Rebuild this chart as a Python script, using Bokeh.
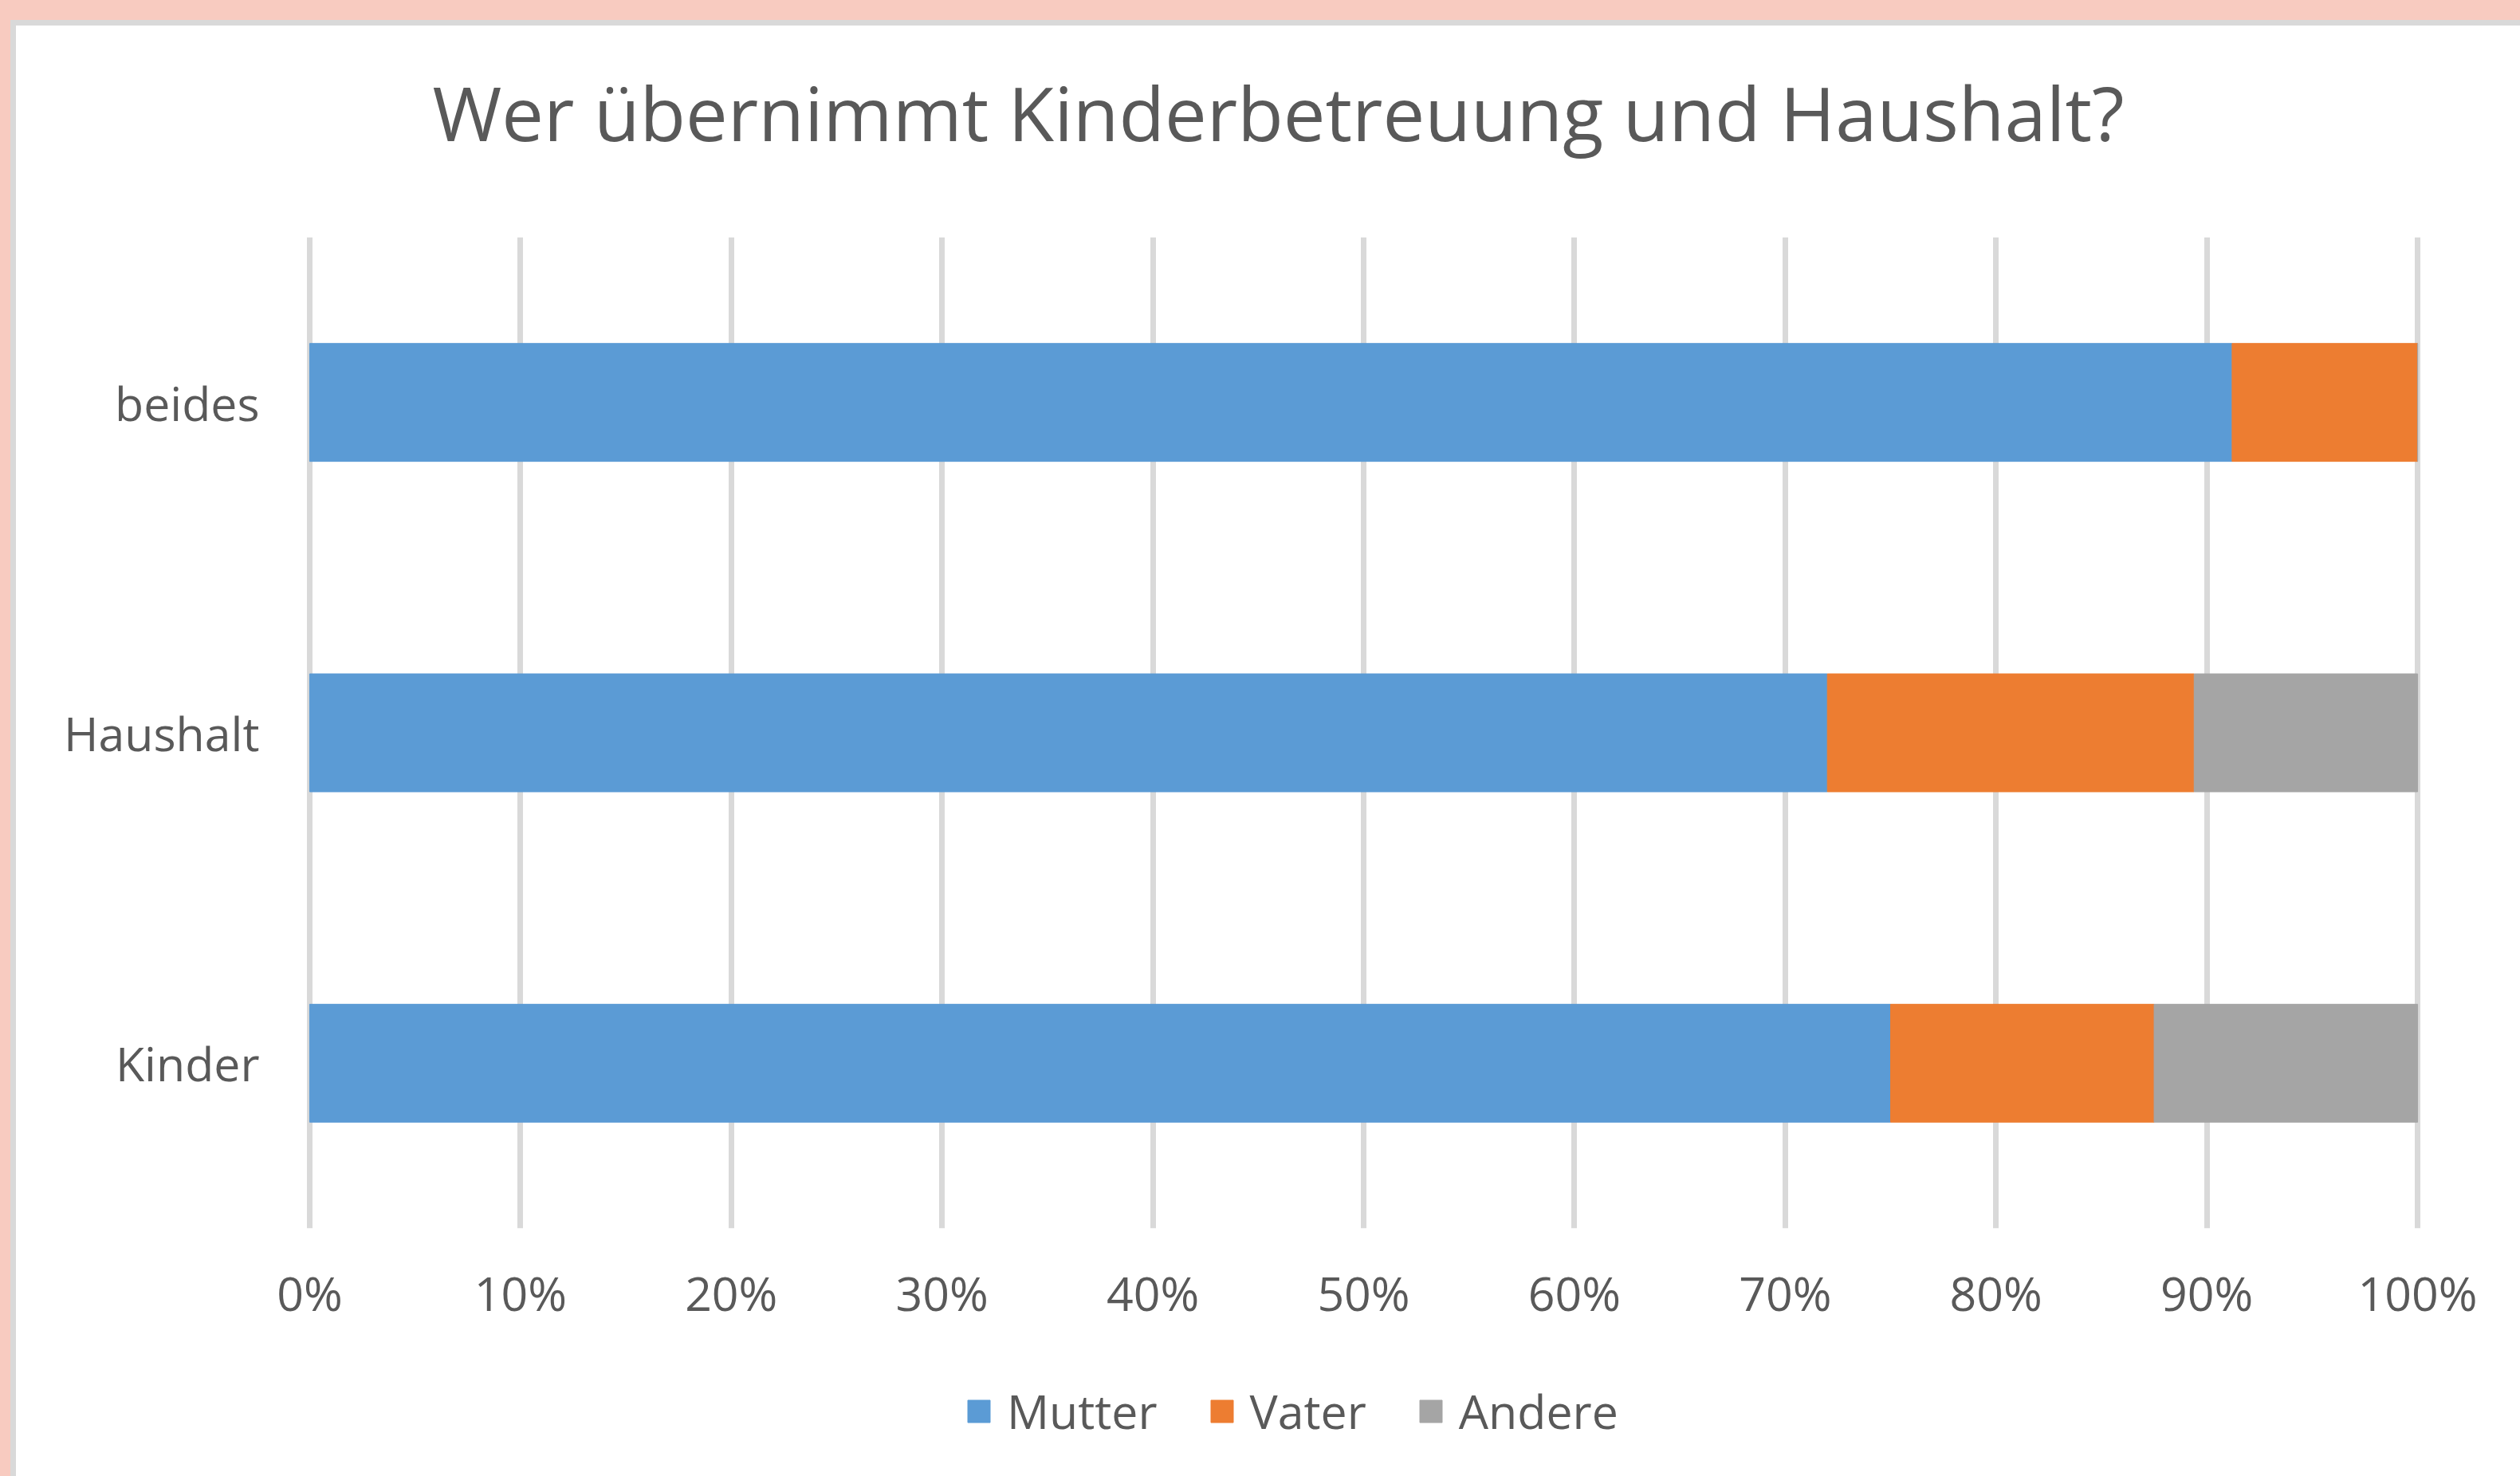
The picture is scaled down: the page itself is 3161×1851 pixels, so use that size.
from bokeh.plotting import figure
from bokeh.models import (ColumnDataSource, FactorRange, Range1d, FixedTicker,
                          NumeralTickFormatter, Label, Legend)
from bokeh.layouts import column
from bokeh.embed import file_html
from bokeh.resources import INLINE

# ---- data ----
categories = ["Kinder", "Haushalt", "beides"]
series = ["Mutter", "Vater", "Andere"]
mutter = [0.750, 0.720, 0.912]
vater = [0.125, 0.174, 0.088]
andere = [0.125, 0.106, 0.000]
tick_values = [0.0, 0.1, 0.2, 0.3, 0.4, 0.5, 0.6, 0.7, 0.8, 0.9, 1.0]
title_text = "Wer übernimmt Kinderbetreuung und Haushalt?"

# ---- style ----
colors = ["#5B9BD5", "#ED7D31", "#A5A5A5"]
FONT = "Open Sans"
TEXT = "#595959"
W = 3141
H_TITLE, H_MAIN, H_LEG = 265, 1404, 150

source = ColumnDataSource(data=dict(cat=categories, Mutter=mutter, Vater=vater, Andere=andere))


def bare_figure(height):
    f = figure(width=W, height=height,
               x_range=Range1d(0, 1), y_range=FactorRange(*categories),
               x_axis_type=None, y_axis_type=None,
               output_backend="svg", toolbar_location=None,
               min_border_left=0, min_border_right=0, min_border_top=0, min_border_bottom=0,
               background_fill_alpha=0, border_fill_color="white",
               outline_line_color=None)
    return f


# ---- title strip ----
ptitle = bare_figure(H_TITLE)
ptitle.add_layout(Label(x=1223, y=157, x_units="screen", y_units="screen",
                        text=title_text, text_align="center", text_baseline="alphabetic",
                        text_font_size="94px", text_color=TEXT, text_font=FONT))

# ---- main chart ----
p = figure(width=W, height=H_MAIN,
           y_range=FactorRange(*categories, range_padding=0),
           x_range=Range1d(-0.003, 1.003),
           output_backend="svg", toolbar_location=None,
           min_border_left=360, min_border_right=121,
           min_border_top=0, min_border_bottom=161,
           background_fill_alpha=0, border_fill_color="white",
           outline_line_color=None)

renderers = p.hbar_stack(series, y="cat", height=0.357, color=colors, source=source)

for ax in (p.xaxis[0], p.yaxis[0]):
    ax.axis_line_color = None
    ax.major_tick_line_color = None
    ax.minor_tick_line_color = None
    ax.major_tick_out = 0
    ax.major_tick_in = 0
    ax.major_label_text_font_size = "59px"
    ax.major_label_text_color = TEXT
    ax.major_label_text_font = FONT

p.xaxis.ticker = FixedTicker(ticks=tick_values)
p.xaxis.formatter = NumeralTickFormatter(format="0%")
p.xaxis.major_label_standoff = 40
p.yaxis.major_label_standoff = 55

p.xgrid.ticker = FixedTicker(ticks=tick_values)
p.xgrid.grid_line_color = "#D9D9D9"
p.xgrid.grid_line_width = 7
p.ygrid.grid_line_color = None

# ---- legend strip (legend keys come from hidden copies of the series) ----
plegend = bare_figure(H_LEG)
leg_renderers = plegend.hbar_stack(series, y="cat", height=0.357, color=colors,
                                   source=source, visible=False)
legend = Legend(items=[(s, [r]) for s, r in zip(series, leg_renderers)],
                location=(830, 42), orientation="horizontal",
                glyph_width=35, glyph_height=35, label_standoff=18, spacing=63,
                padding=0, margin=0, border_line_color=None,
                background_fill_alpha=0,
                label_text_font_size="59px", label_text_color=TEXT,
                label_text_font=FONT)
plegend.add_layout(legend)

inner = column(ptitle, p, plegend, spacing=0, styles={"background-color": "white"})
middle = column(inner, styles={"background-color": "#D9D9D9", "padding": "7px 0px 0px 7px"})
outer = column(middle, styles={"background-color": "#F8CBC0", "padding": "25px 0px 0px 13px"})

open("out.html", "w").write(file_html(outer, INLINE, title="Wer übernimmt Kinderbetreuung und Haushalt?"))
